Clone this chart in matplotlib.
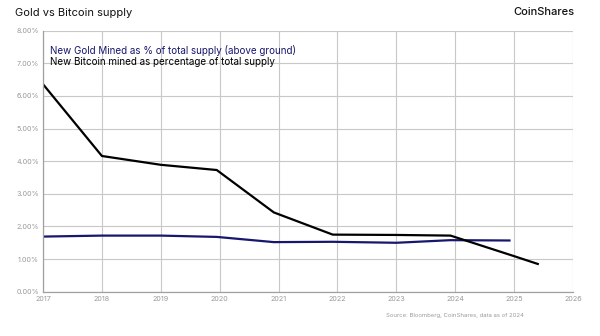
import matplotlib
matplotlib.use("Agg")
import matplotlib.pyplot as plt
from matplotlib.ticker import FuncFormatter

plt.rcParams['font.family'] = ['Inter', 'DejaVu Sans']

# Series values (percent of total supply)
btc_years = [2017, 2018, 2019, 2019.95, 2020.92, 2021.92, 2023, 2023.92, 2025, 2025.42]
btc_pct = [6.36, 4.16, 3.89, 3.73, 2.43, 1.75, 1.74, 1.72, 1.09, 0.84]

gold_years = [2017, 2018, 2019, 2019.95, 2020.92, 2021.92, 2023, 2023.92, 2024.94]
gold_pct = [1.69, 1.72, 1.72, 1.68, 1.52, 1.53, 1.50, 1.58, 1.57]

year_ticks = list(range(2017, 2027))
pct_ticks = list(range(0, 9))

gold_color = "#17176e"
btc_color = "#000000"

fig = plt.figure(figsize=(6.0, 3.36), dpi=100)
ax = fig.add_axes([0.0717, 0.1318, 0.8833, 0.7768])

ax.plot(gold_years, gold_pct, color=gold_color, lw=1.6, solid_capstyle='butt')
ax.plot(btc_years, btc_pct, color=btc_color, lw=1.6, solid_capstyle='butt')

ax.set_xlim(2017, 2026)
ax.set_ylim(0, 8)
ax.set_xticks(year_ticks)
ax.set_yticks(pct_ticks)
ax.yaxis.set_major_formatter(FuncFormatter(lambda v, p: f"{v:.2f}%"))
ax.grid(True, color="#c8c8c8", lw=0.8)
ax.set_axisbelow(True)
for s in ['top', 'right']:
    ax.spines[s].set_visible(False)
for s in ['left', 'bottom']:
    ax.spines[s].set_color("#a0a0a0")
    ax.spines[s].set_linewidth(0.9)
ax.tick_params(length=0, labelsize=5.2, labelcolor="#9a9a9a", pad=3)

# Legend as coloured text lines
ax.text(0.013, 0.926, "New Gold Mined as % of total supply (above ground)",
        transform=ax.transAxes, color=gold_color, fontsize=7.1, va='center')
ax.text(0.013, 0.880, "New Bitcoin mined as percentage of total supply",
        transform=ax.transAxes, color=btc_color, fontsize=7.1, va='center')

fig.text(15 / 600, 1 - 13 / 336, "Gold vs Bitcoin supply", fontsize=8,
         color="#111111", va='center', ha='left')
fig.text(575 / 600, 1 - 12 / 336, "CoinShares", fontsize=8, fontweight='medium',
         color="#111111", va='center', ha='right')
fig.text(386 / 600, 1 - 315 / 336, "Source: Bloomberg, CoinShares, data as of 2024",
         fontsize=4.3, color="#9a9a9a", va='center', ha='left')

fig.savefig("out.png", dpi=100, facecolor="white")
